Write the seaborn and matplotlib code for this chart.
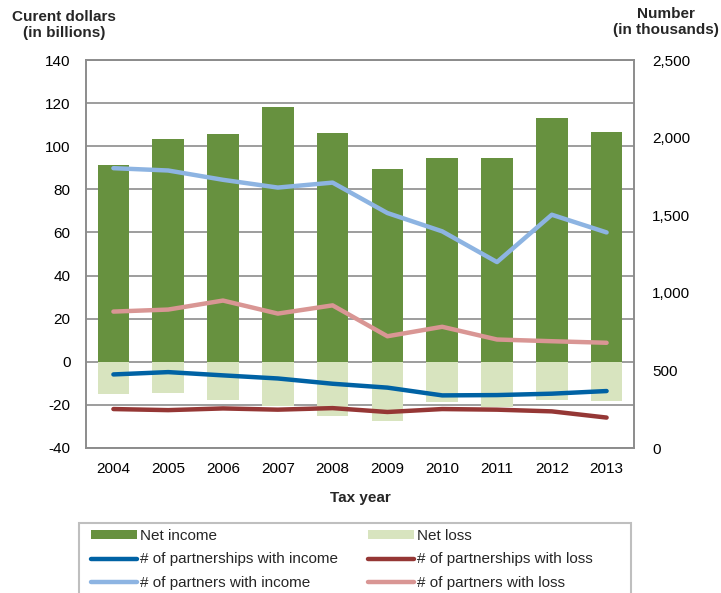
import numpy as np
import pandas as pd
import matplotlib
matplotlib.use("Agg")
import matplotlib.pyplot as plt
import seaborn as sns
from matplotlib.lines import Line2D
from matplotlib.patches import Patch, Rectangle

years = ["2004", "2005", "2006", "2007", "2008", "2009", "2010", "2011", "2012", "2013"]
net_income = [91.3, 103.2, 105.8, 118.2, 106.0, 89.5, 94.4, 94.6, 113.1, 106.8]
net_loss = [-14.8, -14.4, -17.8, -20.5, -25.2, -27.5, -18.7, -21.0, -17.8, -18.2]
partnerships_income = [474, 489, 468, 448, 414, 389, 339, 341, 350, 367]
partnerships_loss = [251, 244, 255, 247, 257, 232, 251, 247, 236, 196]
partners_income = [1803, 1788, 1728, 1678, 1710, 1514, 1396, 1198, 1503, 1389]
partners_loss = [879, 892, 950, 866, 919, 720, 781, 699, 688, 678]
left_ticks = [-40, -20, 0, 20, 40, 60, 80, 100, 120, 140]
right_ticks = [0, 500, 1000, 1500, 2000, 2500]
right_labels = ["0", "500", "1,000", "1,500", "2,000", "2,500"]

C_INC = "#67913F"
C_LOSS = "#D8E4BF"
C_PSI = "#0062A4"
C_PSL = "#953735"
C_PTI = "#8DB4E2"
C_PTL = "#D99694"

sns.set_theme(style="white")
plt.rcParams["font.family"] = ["Liberation Sans", "DejaVu Sans"]

W, H = 721, 593
fig = plt.figure(figsize=(W / 100, H / 100), dpi=100)
ax = fig.add_axes([86 / W, 1 - 448 / H, (634 - 86) / W, (448 - 60) / H])

df = pd.DataFrame({"year": years, "inc": net_income, "loss": net_loss})
sns.barplot(data=df, x="year", y="inc", color=C_INC, saturation=1, width=0.58, ax=ax, zorder=2)
sns.barplot(data=df, x="year", y="loss", color=C_LOSS, saturation=1, width=0.58, ax=ax, zorder=2)
for p in ax.patches:
    p.set_linewidth(0)

ax.set_ylim(-40, 140)
ax.set_xlim(-0.5, len(years) - 0.5)
ax.set_yticks(left_ticks)
ax.set_yticklabels([str(t) for t in left_ticks])
ax.yaxis.grid(True, color="#8C8C8C", linewidth=1.2, zorder=0)
ax.set_axisbelow(True)
ax.tick_params(axis="both", length=0, labelsize=11, colors="black")
ax.tick_params(axis="y", pad=11)
ax.tick_params(axis="x", pad=10)
ax.set_ylabel("")
ax.set_xlabel("Tax year", fontsize=11, fontweight="bold", labelpad=11)
for s in ax.spines.values():
    s.set_color("#8C8C8C")
    s.set_linewidth(1.2)

ax2 = ax.twinx()
xpos = np.arange(len(years))
lw = 3.2
sns.lineplot(x=xpos, y=partnerships_income, ax=ax2, color=C_PSI, linewidth=lw, solid_capstyle="round")
sns.lineplot(x=xpos, y=partnerships_loss, ax=ax2, color=C_PSL, linewidth=lw, solid_capstyle="round")
sns.lineplot(x=xpos, y=partners_income, ax=ax2, color=C_PTI, linewidth=lw, solid_capstyle="round")
sns.lineplot(x=xpos, y=partners_loss, ax=ax2, color=C_PTL, linewidth=lw, solid_capstyle="round")
ax2.set_ylim(0, 2500)
ax2.set_xlim(-0.5, len(years) - 0.5)
ax2.set_yticks(right_ticks)
ax2.set_yticklabels(right_labels)
ax2.tick_params(axis="y", length=0, labelsize=11, pad=13, colors="black")
ax2.grid(False)
for s in ax2.spines.values():
    s.set_color("#8C8C8C")
    s.set_linewidth(1.2)

fig.text(64 / W, 1 - 10 / H, "Curent dollars\n(in billions)", ha="center", va="top",
         fontsize=11, fontweight="bold", linespacing=1.2)
fig.text(666 / W, 1 - 7 / H, "Number\n(in thousands)", ha="center", va="top",
         fontsize=11, fontweight="bold", linespacing=1.2)

# legend frame
fig.patches.append(Rectangle((79 / W, -0.05), (631 - 79) / W, 0.05 + (H - 523) / H,
                             transform=fig.transFigure, fill=False,
                             edgecolor="#BFBFBF", linewidth=1.5))

def mk_line(c):
    return Line2D([0], [0], color=c, linewidth=lw, solid_capstyle="round")

col1_h = [Patch(facecolor=C_INC, edgecolor="none"), mk_line(C_PSI), mk_line(C_PTI)]
col1_l = ["Net income", "# of partnerships with income", "# of partners with income"]
col2_h = [Patch(facecolor=C_LOSS, edgecolor="none"), mk_line(C_PSL), mk_line(C_PTL)]
col2_l = ["Net loss", "# of partnerships with loss", "# of partners with loss"]

common = dict(loc="upper left", frameon=False, fontsize=11, handlelength=3.0,
              handleheight=0.5, handletextpad=0.2, labelspacing=0.62,
              borderpad=0, borderaxespad=0)
fig.legend(col1_h, col1_l, bbox_to_anchor=(91 / W, 1 - 529 / H), **common)
fig.legend(col2_h, col2_l, bbox_to_anchor=(368 / W, 1 - 529 / H), **common)

fig.savefig("out.png", dpi=100)
